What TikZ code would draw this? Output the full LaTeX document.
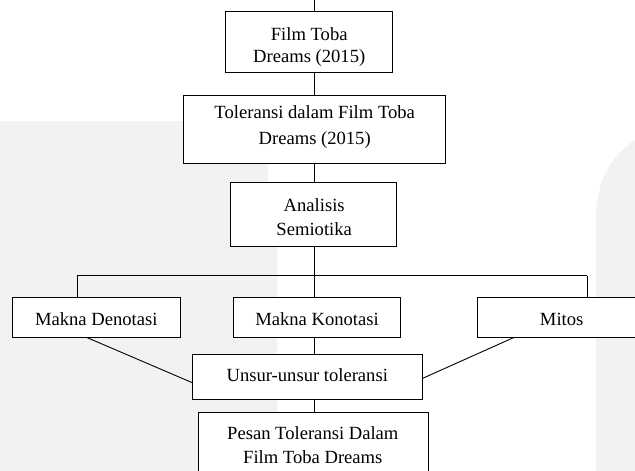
\documentclass[tikz,border=0pt]{standalone}
\usepackage{fontspec}
\setmainfont{Liberation Serif}
\begin{document}
\begin{tikzpicture}[x=1pt,y=-1pt,
  box/.style={draw=black, line width=0.9pt, fill=white, rectangle, inner sep=0pt, outer sep=0pt},
  txt/.style={inner sep=0pt, outer sep=0pt, align=center, font=\fontsize{18.6}{24}\selectfont, anchor=base},
  conn/.style={draw=black, line width=0.9pt}]
\useasboundingbox (0,0) rectangle (635,471);
\clip (0,0) rectangle (635,471);
\fill[white] (0,0) rectangle (635,471);
% faint watermark areas
\fill[black!5] (0,121) -- (268,121) -- (268,240) -- (277,240) -- (277,471) -- (0,471) -- cycle;
\fill[black!5] (635,140) .. controls (608,158) and (597,185) .. (596,215) -- (596,471) -- (635,471) -- cycle;
% reference coordinates
\coordinate (trunk) at (314,0);
\coordinate (bar) at (0,275.7);
% boxes
\node[box, minimum width=167.2pt, minimum height=61pt] (b1) at (309,42.2) {};
\node[box, minimum width=261.7pt, minimum height=67.6pt] (b2) at (314.2,129.5) {};
\node[box, minimum width=166.7pt, minimum height=63.3pt] (b3) at (313.3,214.3) {};
\node[box, minimum width=168pt, minimum height=40.4pt] (den) at (96.7,317.5) {};
\node[box, minimum width=167.4pt, minimum height=40pt] (kon) at (317,317.2) {};
\node[box, minimum width=168.7pt, minimum height=39.6pt] (mit) at (561.7,317.5) {};
\node[box, minimum width=230.4pt, minimum height=45pt] (uns) at (307.5,376.5) {};
\node[box, minimum width=230pt, minimum height=78pt] (pes) at (313.3,451) {};
% texts (base anchor = baseline of the last line)
\node[txt, font=\fontsize{18.6}{22.7}\selectfont] (t1) at (309.2,62.7) {Film Toba\\Dreams (2015)};
\node[txt, font=\fontsize{18.6}{25.7}\selectfont] (t2) at (314.7,144) {Toleransi dalam Film Toba\\Dreams (2015)};
\node[txt, font=\fontsize{18.6}{23.3}\selectfont] (t3) at (314.2,235) {Analisis\\Semiotika};
\node[txt] (tden) at (96.3,325) {Makna Denotasi};
\node[txt] (tkon) at (317,325) {Makna Konotasi};
\node[txt] (tmit) at (561.7,325) {Mitos};
\node[txt] (tuns) at (307.3,381.7) {Unsur-unsur toleransi};
\node[txt] (tpes) at (312.8,463.3) {Pesan Toleransi Dalam\\Film Toba Dreams};
% connectors
\draw[conn] (trunk) -- (trunk |- b1.north);
\draw[conn] (b1.south -| trunk) -- (b2.north -| trunk);
\draw[conn] (b2.south -| trunk) -- (b3.north -| trunk);
\draw[conn] (b3.south -| trunk) -- (kon.north -| trunk);
\draw[conn] (bar -| 77,0) -- (bar -| 587.3,0);
\draw[conn] (bar -| 77,0) -- (den.north -| 77,0);
\draw[conn] (bar -| 587.3,0) -- (mit.north -| 587.3,0);
\draw[conn] (kon.south -| trunk) -- (uns.north -| trunk);
\draw[conn] ([xshift=-9.4pt]den.south) -- ([yshift=-6.2pt]uns.west);
\draw[conn] ([xshift=-47.4pt]mit.south) -- ([yshift=-1.8pt]uns.east);
\draw[conn] (uns.south -| trunk) -- (pes.north -| trunk);
\end{tikzpicture}
\end{document}
